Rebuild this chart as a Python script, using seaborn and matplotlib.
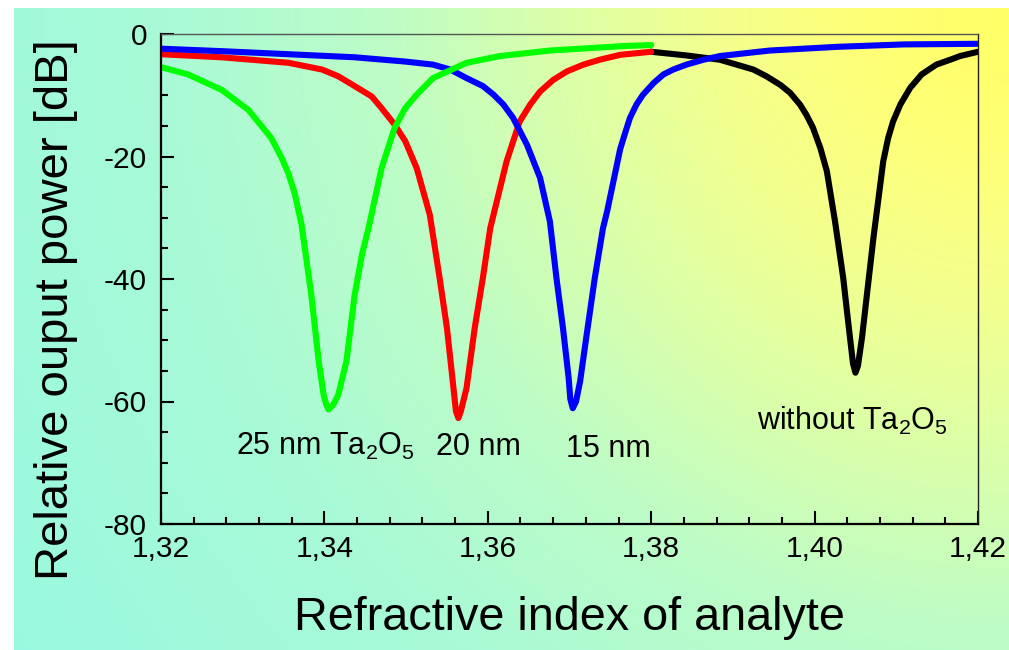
import numpy as np
import pandas as pd
import matplotlib
matplotlib.use("Agg")
import matplotlib.pyplot as plt
from matplotlib.ticker import FixedLocator, FuncFormatter
import seaborn as sns

# ---------------- data ----------------
x_25nm = [1.3200, 1.3233, 1.3274, 1.3307, 1.3335, 1.3348, 1.3356, 1.3364, 1.3372, 1.3384,
          1.3393, 1.3399, 1.3402, 1.3405, 1.3411, 1.3417, 1.3427, 1.3437, 1.3446, 1.3454,
          1.3470, 1.3486, 1.3499, 1.3513, 1.3533, 1.3574, 1.3615, 1.3676, 1.3762, 1.3800]
y_25nm = [-5.4, -6.6, -9.1, -12.4, -17.0, -20.3, -22.8, -26.2, -31.1, -42.6,
          -53.4, -58.9, -60.4, -61.3, -60.5, -58.9, -53.4, -42.6, -36.0, -31.7,
          -21.9, -15.3, -12.1, -9.9, -7.2, -4.7, -3.6, -2.7, -2.0, -1.8]

x_20nm = [1.3200, 1.3274, 1.3356, 1.3397, 1.3417, 1.3437, 1.3458, 1.3470, 1.3486, 1.3499,
          1.3513, 1.3529, 1.3541, 1.3550, 1.3558, 1.3561, 1.3564, 1.3567, 1.3574, 1.3584,
          1.3594, 1.3603, 1.3623, 1.3639, 1.3652, 1.3664, 1.3680, 1.3697, 1.3717, 1.3737,
          1.3762, 1.3800]
y_20nm = [-3.3, -3.8, -4.7, -5.8, -6.9, -8.5, -10.2, -12.1, -14.8, -17.5,
          -21.9, -29.5, -39.8, -48.0, -57.8, -61.6, -62.7, -61.6, -57.8, -48.0,
          -39.8, -31.7, -20.8, -14.3, -11.5, -9.4, -7.5, -6.1, -5.0, -4.2,
          -3.4, -2.9]

x_15nm = [1.3200, 1.3274, 1.3356, 1.3437, 1.3499, 1.3533, 1.3554, 1.3574, 1.3594, 1.3607,
          1.3619, 1.3631, 1.3648, 1.3664, 1.3676, 1.3684, 1.3692, 1.3699, 1.3701, 1.3704,
          1.3708, 1.3713, 1.3721, 1.3731, 1.3741, 1.3746, 1.3762, 1.3768, 1.3774, 1.3782,
          1.3790, 1.3803, 1.3815, 1.3827, 1.3843, 1.3864, 1.3884, 1.3945, 1.4027, 1.4109,
          1.4200]
y_15nm = [-2.4, -2.8, -3.3, -3.8, -4.5, -5.0, -5.8, -7.2, -8.5, -9.9,
          -11.5, -13.7, -18.1, -23.5, -30.6, -39.8, -48.0, -56.2, -59.6, -61.1,
          -60.0, -56.7, -49.1, -39.8, -31.7, -29.0, -18.8, -16.2, -13.7, -11.5,
          -9.9, -8.0, -6.6, -5.8, -5.0, -4.2, -3.6, -2.7, -2.1, -1.7,
          -1.6]

x_none = [1.3800, 1.3843, 1.3884, 1.3925, 1.3941, 1.3958, 1.3970, 1.3982, 1.3990, 1.3998,
          1.4007, 1.4015, 1.4025, 1.4035, 1.4041, 1.4047, 1.4050, 1.4053, 1.4058, 1.4064,
          1.4072, 1.4084, 1.4090, 1.4096, 1.4105, 1.4117, 1.4131, 1.4149, 1.4166, 1.4178,
          1.4200]
y_none = [-2.9, -3.5, -4.2, -5.8, -6.9, -8.3, -9.6, -11.5, -13.2, -15.3,
          -18.6, -22.4, -30.6, -39.8, -46.9, -53.8, -55.3, -54.2, -49.6, -42.6,
          -33.3, -20.8, -17.0, -14.3, -11.5, -8.8, -6.6, -5.0, -4.2, -3.6,
          -2.9]

x_ticks = [1.32, 1.34, 1.36, 1.38, 1.40, 1.42]
y_ticks = [0, -20, -40, -60, -80]

labels = ["25 nm Ta$_2$O$_5$", "20 nm", "15 nm", "without Ta$_2$O$_5$"]
label_pos = [(1.3401, -68.7), (1.3589, -68.7), (1.3747, -69.0), (1.4046, -64.7)]

# ---------------- style ----------------
sns.set_theme(style="white")
plt.rcParams["font.family"] = ["Liberation Sans", "DejaVu Sans"]
plt.rcParams["mathtext.default"] = "regular"
plt.rcParams["axes.unicode_minus"] = False

W, H = 1009, 650
fig = plt.figure(figsize=(W / 100, H / 100), dpi=100)
fig.patch.set_facecolor("white")

# background gradient (radial from top-right corner)
bg = fig.add_axes([14 / W, 0, (W - 14) / W, (H - 8) / H])
bg.set_axis_off()
nx, ny = 400, 260
gx, gy = np.meshgrid(np.linspace(0, 1, nx), np.linspace(0, 1, ny))
d = np.sqrt(((1 - gx) * 995) ** 2 + (gy * 642) ** 2) / 995.0
stops_d = [0.0, 0.15, 0.30, 0.45, 0.63, 0.85, 1.20]
stops_c = np.array([[1.00, 1.00, 0.40],
                    [1.00, 1.00, 0.47],
                    [0.95, 1.00, 0.56],
                    [0.86, 1.00, 0.66],
                    [0.74, 0.99, 0.78],
                    [0.66, 0.98, 0.84],
                    [0.60, 0.98, 0.88]])
img = np.zeros((ny, nx, 3))
for k in range(3):
    img[..., k] = np.interp(d, stops_d, stops_c[:, k])
bg.imshow(img, aspect="auto", extent=[0, 1, 0, 1], origin="upper")

# main axes
ax = fig.add_axes([161 / W, 1 - 524 / H, (978 - 161) / W, (524 - 34) / H])
ax.set_facecolor("none")

lw = 4.4
series = [(x_none, y_none, "black"), (x_20nm, y_20nm, "#ff0000"),
          (x_15nm, y_15nm, "#0000ff"), (x_25nm, y_25nm, "#00ff00")]
for xs, ys, c in series:
    sns.lineplot(x=xs, y=ys, color=c, linewidth=lw, ax=ax, sort=False,
                 solid_capstyle="round", solid_joinstyle="round")

ax.set_xlim(1.32, 1.42)
ax.set_ylim(-80, 0)
ax.xaxis.set_major_locator(FixedLocator(x_ticks))
ax.xaxis.set_minor_locator(FixedLocator(np.arange(1.324, 1.42, 0.004)))
ax.yaxis.set_major_locator(FixedLocator(y_ticks))
ax.yaxis.set_minor_locator(FixedLocator([-10, -15, -25, -30, -35, -45, -50, -55, -65, -70, -75]))
ax.xaxis.set_major_formatter(FuncFormatter(lambda v, p: f"{v:.2f}".replace(".", ",")))
ax.yaxis.set_major_formatter(FuncFormatter(lambda v, p: f"{v:.0f}"))

ax.tick_params(axis="both", which="both", direction="in", colors="black",
               top=False, right=False, bottom=True, left=True)
ax.tick_params(axis="both", which="major", length=9.5, width=1.5, labelsize=21.5)
ax.tick_params(axis="both", which="minor", length=5, width=1.5)
ax.tick_params(axis="x", which="major", pad=8)
ax.tick_params(axis="y", which="major", pad=10)

for s in ["left", "bottom"]:
    ax.spines[s].set_color("black")
    ax.spines[s].set_linewidth(1.6)
ax.spines["top"].set_color("#555555")
ax.spines["top"].set_linewidth(1.0)
ax.spines["right"].set_color("#222222")
ax.spines["right"].set_linewidth(1.0)

ax.set_xlabel("Refractive index of analyte", fontsize=33.7, color="black", labelpad=24)
ax.set_ylabel("Relative ouput power [dB]", fontsize=34, color="black")
ax.yaxis.set_label_coords(-0.102, 0.437)

for t, (lx, ly) in zip(labels, label_pos):
    ax.text(lx, ly, t, fontsize=22, color="black", ha="center", va="baseline")

fig.savefig("out.png", dpi=100)
